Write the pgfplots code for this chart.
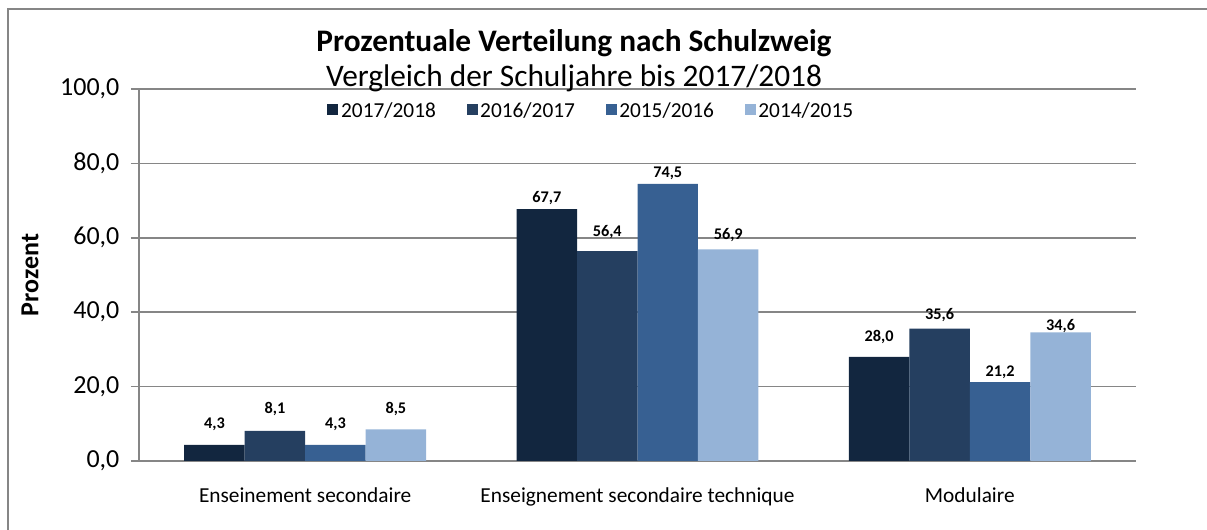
\documentclass[border=0pt]{standalone}
\usepackage{pgfplots}
\pgfplotsset{compat=1.18}
\usepackage{pgfplotstable}
\usepackage{fontspec}
\setmainfont{Carlito}
\definecolor{cA}{HTML}{12263F}
\definecolor{cB}{HTML}{253F60}
\definecolor{cC}{HTML}{376092}
\definecolor{cD}{HTML}{95B3D7}
\definecolor{gridc}{RGB}{134,134,134}

\pgfplotstableread{
x y o
0 4.3 12
1 67.7 5
2 28.0 11.25
}\tA
\pgfplotstableread{
x y o
0 8.1 12.75
1 56.4 11.25
2 35.6 6.75
}\tB
\pgfplotstableread{
x y o
0 4.3 12
1 74.5 4.5
2 21.2 4.5
}\tC
\pgfplotstableread{
x y o
0 8.5 12
1 56.9 7.5
2 34.6 1.5
}\tD

\begin{document}
\begin{tikzpicture}[x=0.75pt,y=0.75pt]
\begin{axis}[
  at={(104.25pt,51.75pt)}, anchor=south west,
  scale only axis, width=747.75pt, height=279pt,
  xmin=-0.5, xmax=2.5, ymin=0, ymax=100,
  axis x line*=bottom, axis y line*=left,
  axis line style={gridc, line width=1.2pt},
  ybar, bar width=0.182,
  xtick={0,1,2},
  xticklabels={Enseinement secondaire, Enseignement secondaire technique, Modulaire},
  x tick label style={font=\fontsize{16}{18}\selectfont, anchor=base, yshift=-25.5pt},
  extra x ticks={-0.5,0.5,1.5,2.5},
  extra x tick labels={},
  extra x tick style={major tick length=5.25pt, tick align=outside, tick style={gridc, line width=1.2pt}},
  tick align=outside,
  xtick style={draw=none},
  ytick={0,20,40,60,80,100},
  major tick length=6pt,
  ytick style={gridc, line width=1.2pt},
  ymajorgrids, grid style={gridc, line width=1.2pt},
  y tick label style={font=\fontsize{19.5}{21}\selectfont, anchor=east, inner sep=0pt, xshift=-8.5pt},
  yticklabel={\pgfmathprintnumber[fixed,fixed zerofill,precision=1,use comma]{\tick}},
  /pgf/number format/assume math mode=true,
  ylabel={Prozent},
  ylabel style={at={(axis description cs:-0.1093,0.5)}, anchor=center, font=\bfseries\fontsize{19.5}{21}\selectfont},
  nodes near coords={\pgfmathprintnumber[fixed,fixed zerofill,precision=1,use comma]{\pgfplotspointmeta}},
  nodes near coords style={font=\bfseries\fontsize{12.2}{14}\selectfont, anchor=base, inner sep=0pt, text=black},
  visualization depends on={\thisrow{o} \as \myoff},
  every node near coord/.append style={yshift=\myoff},
  legend style={at={(axis description cs:0.454,0.941)}, anchor=center, draw=none, fill=none,
    font=\fontsize{16}{18}\selectfont, legend columns=4,
    /tikz/every even column/.append style={column sep=21pt},
    nodes={inner xsep=2pt, inner ysep=1pt}},
  legend image code/.code={\fill[#1] (0pt,-3.3pt) rectangle (8.25pt,4.95pt);},
]
\addplot[fill=cA, draw=none, bar shift=-0.273] table[x=x,y=y] {\tA};
\addplot[fill=cB, draw=none, bar shift=-0.091] table[x=x,y=y] {\tB};
\addplot[fill=cC, draw=none, bar shift=0.091] table[x=x,y=y] {\tC};
\addplot[fill=cD, draw=none, bar shift=0.273] table[x=x,y=y] {\tD};
\legend{2017/2018, 2016/2017, 2015/2016, 2014/2015}
\end{axis}
\node[anchor=base, font=\bfseries\fontsize{23.5}{26}\selectfont] at (574,478) {Prozentuale Verteilung nach Schulzweig};
\node[anchor=base, font=\fontsize{23.5}{26}\selectfont] at (574,443) {Vergleich der Schuljahre bis 2017/2018};
\draw[gridc, line width=1.3pt] (8,0) -- (8,521) -- (1207,521);
\pgfresetboundingbox
\path (0,0) rectangle (1207,530);
\end{tikzpicture}
\end{document}
